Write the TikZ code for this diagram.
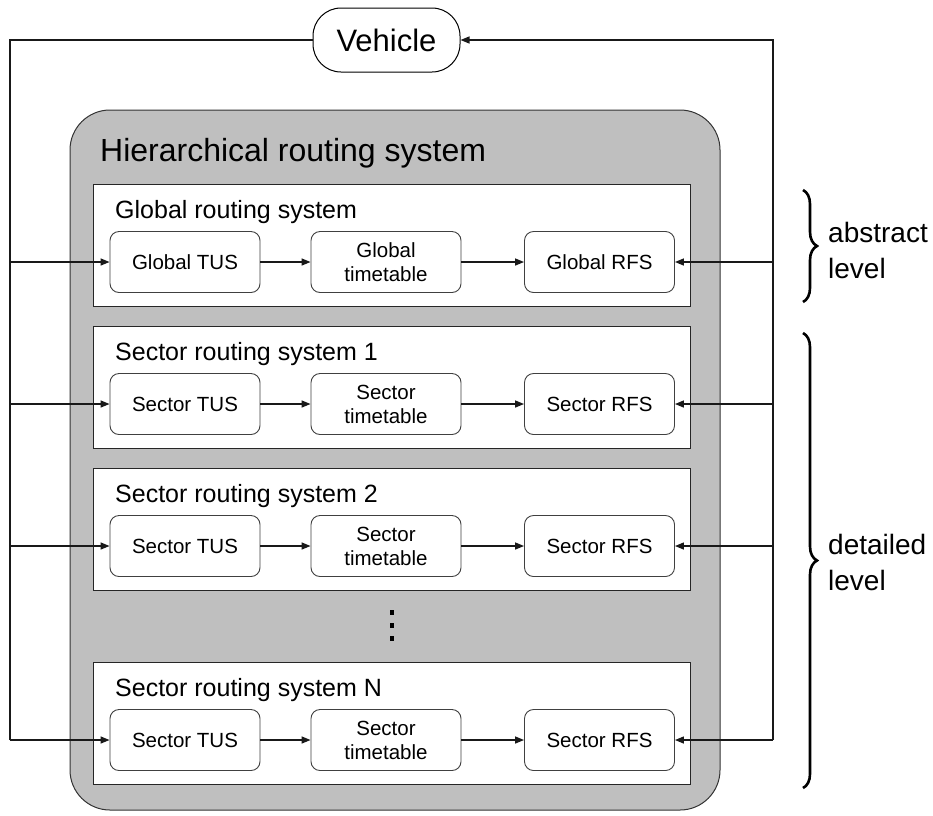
\documentclass[tikz,border=0pt]{standalone}
\usepackage{fontspec}
\setmainfont{Liberation Sans}
\usetikzlibrary{arrows.meta,decorations.pathreplacing}
\begin{document}
\begin{tikzpicture}[x=1pt,y=-1pt,
  conn/.style={line width=1.4pt,draw=black!90},
  arr/.style={conn,-{Triangle[length=9pt,width=7pt]}},
  vehbox/.style={draw,line width=1pt,rounded corners=28pt,minimum width=147pt,minimum height=64pt,
    font=\fontsize{31}{36}\selectfont,inner sep=0pt},
  hrsbox/.style={draw=black!80,line width=1pt,fill=black!25,rounded corners=40pt,
    minimum width=650pt,minimum height=700pt,inner sep=0pt},
  lvlbox/.style={draw=black!85,line width=1pt,fill=white,minimum width=597pt,minimum height=122pt,inner sep=0pt},
  unitbox/.style={draw=black!75,line width=0.9pt,fill=white,rounded corners=9pt,minimum width=150pt,
    minimum height=61pt,inner sep=0pt,align=center,font=\fontsize{20.5}{24}\selectfont},
  lvltitle/.style={anchor=west,inner sep=0pt,font=\fontsize{25}{30}\selectfont},
  sidetext/.style={anchor=west,inner sep=0pt,align=left,font=\fontsize{28}{36}\selectfont},
  bracestyle/.style={decorate,decoration={brace,amplitude=14pt},line width=2.6pt}
]
\useasboundingbox (0,0) rectangle (933,815);

% outer routing system frame
\node[hrsbox] (hrs) at (395,460) {};
\node[anchor=base west,inner sep=0pt,font=\fontsize{32}{38}\selectfont] (hrstitle) at (100,161) {Hierarchical routing system};

% vehicle
\node[vehbox] (veh) at (386.5,40) {Vehicle};

% levels: name / top edge / title / prefix / timetable prefix
\foreach \n/\top/\ttl/\pre in {g/184/Global routing system/Global,
                                 a/326/Sector routing system 1/Sector,
                                 b/468/Sector routing system 2/Sector,
                                 c/662/Sector routing system N/Sector}{
  \node[lvlbox] (box\n) at (391.5,\top+61) {};
  \node[lvltitle] (title\n) at (115,\top+28) {\ttl};
  \node[unitbox] (tus\n) at (185,\top+78) {\pre{} TUS};
  \node[unitbox] (tt\n) at (386,\top+78) {\pre\\timetable};
  \node[unitbox] (rfs\n) at (599.5,\top+78) {\pre{} RFS};
  \coordinate (L\n) at (10,\top+78);
  \coordinate (R\n) at (773,\top+78);
  \draw[arr] (tus\n) -- (tt\n);
  \draw[arr] (tt\n) -- (rfs\n);
  \draw[arr] (L\n) -- (tus\n);
  \draw[arr] (R\n) -- (rfs\n);
}

% vertical ellipsis between level 2 and level N
\foreach \yy in {612,625,638}{
  \fill (390,\yy-2.5) rectangle (394,\yy+2.5);
}

% feedback loop through the vehicle
\coordinate (lt) at (10,40);
\coordinate (rt) at (773,40);
\draw[conn] (Lc) -- (lt) -- (veh.west);
\draw[arr] (Rc) -- (rt) -- (veh.east);

% level braces
\coordinate (ab1) at (803,190);
\coordinate (ab2) at (803,302);
\coordinate (de1) at (803,333);
\coordinate (de2) at (803,788);
\draw[bracestyle] (ab1) -- (ab2);
\draw[bracestyle] (de1) -- (de2);
\node[sidetext] (abs) at (828,250) {abstract\\level};
\node[sidetext] (det) at (828,562) {detailed\\level};
\end{tikzpicture}
\end{document}
